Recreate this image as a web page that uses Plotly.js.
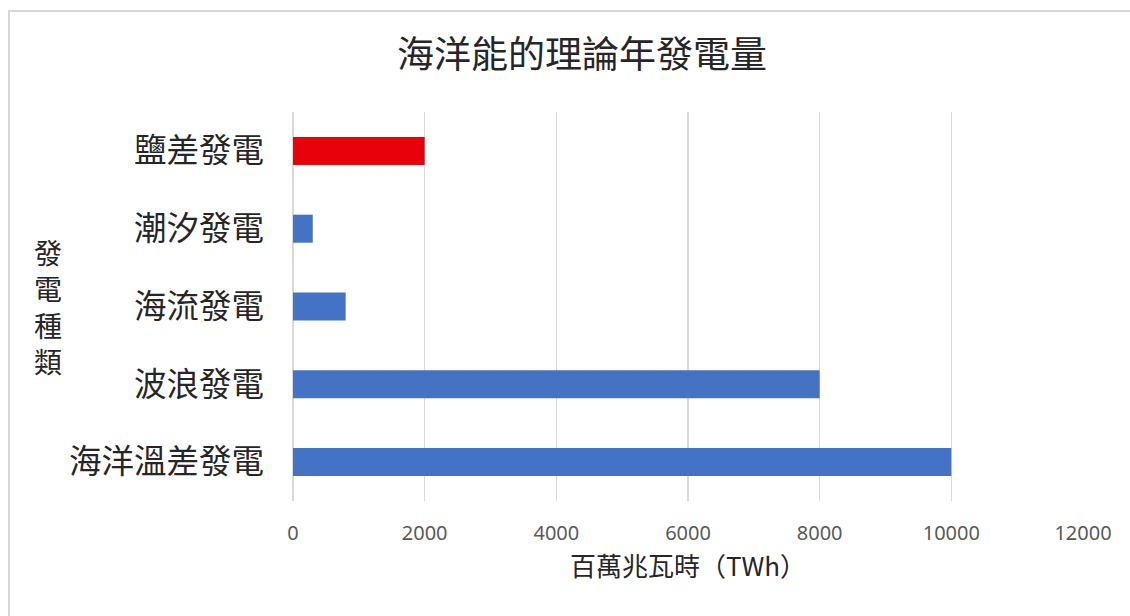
<!DOCTYPE html>
<html>
<head>
<meta charset="utf-8">
<script src="https://cdn.plot.ly/plotly-3.0.1.min.js"></script>
<style>
  html, body { margin: 0; padding: 0; background: #ffffff; }
  #wrap { position: relative; width: 1130px; height: 616px; }
  #chart { width: 1130px; height: 616px; }
  #frame { position: absolute; left: 8px; top: 10px; width: 1130px; height: 620px;
           border-top: 2px solid #d6d6d6; border-left: 2px solid #d6d6d6; pointer-events: none; }
</style>
</head>
<body>
<div id="wrap">
  <div id="chart"></div>
  <div id="frame"></div>
</div>
<script>
// Data (bottom to top order as drawn)
const categories = ['海洋溫差發電', '波浪發電', '海流發電', '潮汐發電', '鹽差發電'];
const values = [10000, 8000, 800, 300, 2000];
const barColors = ['#4472c4', '#4472c4', '#4472c4', '#4472c4', '#e8000b'];
const xTicks = [0, 2000, 4000, 6000, 8000, 10000, 12000];

const cjk = '"Noto Sans CJK TC", "Noto Sans CJK SC", sans-serif';

const trace = {
  type: 'bar',
  orientation: 'h',
  x: values,
  y: categories,
  marker: { color: barColors },
  hoverinfo: 'x+y'
};

const layout = {
  width: 1130,
  height: 616,
  margin: { l: 293, r: 47, t: 112, b: 115 },
  paper_bgcolor: '#ffffff',
  plot_bgcolor: '#ffffff',
  bargap: 0.64,
  showlegend: false,
  title: {
    text: '海洋能的理論年發電量',
    font: { family: cjk, size: 37, color: '#262626' },
    x: 0.515, xanchor: 'center',
    y: 0.91, yanchor: 'middle'
  },
  xaxis: {
    range: [0, 12000],
    tickvals: xTicks,
    ticktext: xTicks.map(String),
    showgrid: true,
    gridcolor: '#d9d9d9',
    gridwidth: 1.5,
    zeroline: true,
    zerolinecolor: '#d9d9d9',
    zerolinewidth: 1.5,
    showline: false,
    ticks: '',
    ticklabelstandoff: 18,
    tickfont: { family: 'Noto Sans, sans-serif', size: 20, color: '#595959' },
    title: {
      text: '百萬兆瓦時（TWh）',
      font: { family: cjk, size: 26, color: '#262626' },
      standoff: 12
    },
    fixedrange: true
  },
  yaxis: {
    type: 'category',
    categoryorder: 'array',
    categoryarray: categories,
    showgrid: false,
    showline: false,
    ticks: '',
    ticklabelstandoff: 28,
    tickfont: { family: cjk, size: 32.5, color: '#262626' },
    fixedrange: true
  },
  annotations: [{
    xref: 'paper', yref: 'paper',
    x: -0.31, y: 0.5,
    xanchor: 'center', yanchor: 'middle',
    showarrow: false,
    text: '發<br>電<br>種<br>類',
    align: 'center',
    font: { family: cjk, size: 28, color: '#262626' }
  }]
};

Plotly.newPlot('chart', [trace], layout, { displayModeBar: false, staticPlot: true });
</script>
</body>
</html>
